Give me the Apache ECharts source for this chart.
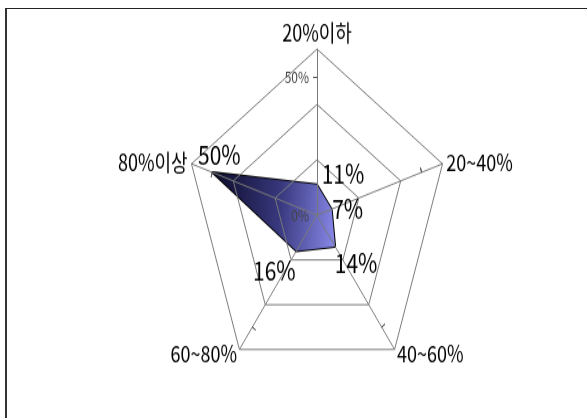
<!DOCTYPE html>
<html>
<head>
<meta charset="utf-8">
<script src="https://cdn.jsdelivr.net/npm/echarts@6/dist/echarts.min.js"></script>
<style>
  html, body { margin: 0; padding: 0; background: #fff; }
  #frame {
    position: absolute; left: 5px; top: 8px; width: 590px; height: 420px;
    border-top: 1px solid #222; border-left: 2px solid #333;
  }
  /* the reference picture is stretched vertically, so the chart is too */
  #chart {
    position: absolute; left: 0; top: 0; width: 587px; height: 332px;
    transform: scale(1, 1.258); transform-origin: 0 0;
  }
</style>
</head>
<body>
<div id="frame"></div>
<div id="chart"></div>
<script>
// categories, clockwise from the top as in the picture
var categories = ['20%이하', '20~40%', '40~60%', '60~80%', '80%이상']
var values = [11, 7, 14, 16, 50]
var axisMax = 60
var tickValues = [50]
var tickLabels = [0, 50]

// where each value label sits relative to its vertex
var labelOffsets = [[26, -9], [16, 0], [21, 13], [-22, 16], [7, -14]]

// echarts lays radar indicators out counter-clockwise, so reverse after the first
var order = [0, 4, 3, 2, 1]
var font = '"Noto Sans CJK KR", "Liberation Sans", sans-serif'

var chart = echarts.init(document.getElementById('chart'))

var center = [317, 171]
var radius = 132

function seriesValues() {
  return order.map(function (i) { return values[i] })
}

var labelSeries = values.map(function (v, k) {
  return {
    type: 'radar',
    radarIndex: 0,
    symbol: 'circle',
    symbolSize: 1,
    silent: true,
    z: 5,
    itemStyle: { color: 'transparent' },
    lineStyle: { opacity: 0 },
    label: {
      show: true,
      position: 'inside',
      offset: labelOffsets[k],
      fontFamily: font,
      fontSize: 21,
      color: '#000',
      formatter: function (p) {
        return p.value === v ? p.value + '%' : ''
      }
    },
    data: [{ value: seriesValues() }]
  }
})

// radar used only for the 50% tick marks (one per side so they cross the axis)
function tickRadar(inside, withLabel) {
  return {
    z: 3,
    center: center,
    radius: radius,
    startAngle: 90,
    splitNumber: 3,
    shape: 'polygon',
    axisName: { show: false },
    indicator: order.map(function (i, n) {
      return {
        name: categories[i], min: 0, max: axisMax,
        axisLabel: { show: withLabel && n === 0 }
      }
    }),
    splitArea: { show: false },
    splitLine: { show: false },
    axisLine: { show: false },
    axisTick: {
      show: true, inside: inside, length: 4, customValues: tickValues,
      lineStyle: { color: '#555' }
    },
    axisLabel: {
      color: '#444', fontSize: 12, fontFamily: font, customValues: tickLabels,
      formatter: function (v) { return v + '%' }
    }
  }
}

chart.setOption({
  animation: false,
  radar: [
    {
      // grid drawn over the filled area, as in the picture
      z: 3,
      center: center,
      radius: radius,
      startAngle: 90,
      splitNumber: 3,
      shape: 'polygon',
      indicator: order.map(function (i) {
        return { name: categories[i], min: 0, max: axisMax }
      }),
      axisName: { color: '#000', fontSize: 18, fontFamily: font },
      nameGap: 4,
      splitArea: { show: false },
      splitLine: { lineStyle: { color: '#7a7a7a', width: 1 } },
      axisLine: { lineStyle: { color: '#7a7a7a', width: 1 } },
      axisTick: { show: false },
      axisLabel: { show: false }
    },
    tickRadar(false, true),
    tickRadar(true, false)
  ],
  series: [
    {
      type: 'radar',
      radarIndex: 0,
      symbol: 'none',
      z: 1,
      lineStyle: { color: '#000', width: 2 },
      areaStyle: {
        opacity: 1,
        color: new echarts.graphic.LinearGradient(0, 0.3, 1, 0.5, [
          { offset: 0, color: '#0c0c2a' },
          { offset: 0.55, color: '#38387e' },
          { offset: 1, color: '#8585e4' }
        ])
      },
      data: [{ value: seriesValues() }]
    }
  ].concat(labelSeries)
})
</script>
</body>
</html>
